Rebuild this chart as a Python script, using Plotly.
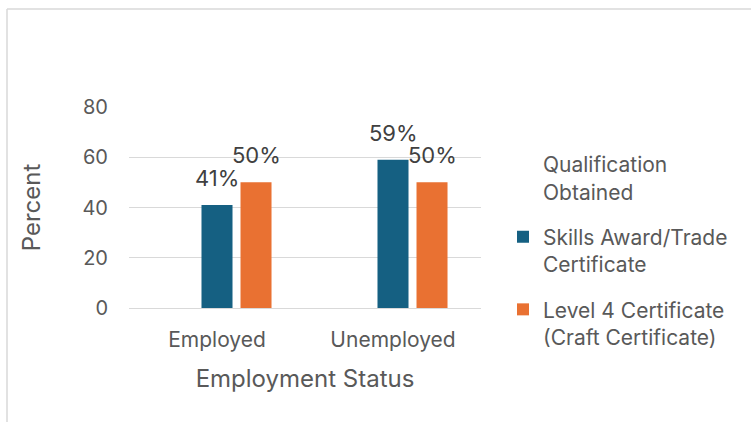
import plotly.graph_objects as go

# --- data -------------------------------------------------------------
categories = ["Employed", "Unemployed"]
series_names = [
    "Qualification<br>Obtained",
    "Skills Award/Trade<br>Certificate",
    "Level 4 Certificate<br>(Craft Certificate)",
]
heading_values = [None, None]          # header-only series, no bars
skills_values = [41, 59]
level4_values = [50, 50]
y_ticks = [0, 20, 40, 60, 80]

# --- styling ----------------------------------------------------------
W, H = 751, 422
M_L, M_R, M_T, M_B = 129, 270, 107, 114
PLOT_W = W - M_L - M_R
PLOT_H = H - M_T - M_B
FONT = "Inter, Lato, sans-serif"
GRID = "#d9d9d9"
TXT = "#595959"
LBL = "#404040"
BLUE = "#156082"
ORANGE = "#E97132"
SLOT = 39  # px between neighbouring bars inside a group

def px_x(p):
    return (p - M_L) / PLOT_W

def px_y(p):
    return (H - M_B - p) / PLOT_H

fig = go.Figure()
series = [
    (series_names[0], heading_values, "rgba(0,0,0,0)", 0),
    (series_names[1], skills_values, BLUE, 0),
    (series_names[2], level4_values, ORANGE, SLOT),
]
for i, (name, vals, color, _) in enumerate(series):
    fig.add_trace(go.Bar(
        x=categories, y=vals, name=name, legendgroup=f"g{i}",
        marker=dict(color=color, line=dict(width=0)),
        hoverinfo="skip",
    ))

# value labels above the bars
for name, vals, color, shift in series[1:]:
    for cat, v in zip(categories, vals):
        fig.add_annotation(
            x=cat, y=v, text=f"{v}%", showarrow=False,
            xshift=shift, yshift=12, yanchor="bottom",
            font=dict(family=FONT, size=22, color=LBL),
        )

# chart frame (top and left edges)
fig.add_shape(type="line", xref="paper", yref="paper",
              x0=px_x(7), x1=px_x(W + 5), y0=px_y(9), y1=px_y(9),
              line=dict(color=GRID, width=1.5))
fig.add_shape(type="line", xref="paper", yref="paper",
              x0=px_x(7), x1=px_x(7), y0=px_y(9), y1=px_y(H + 5),
              line=dict(color=GRID, width=1.5))

fig.update_layout(
    width=W, height=H,
    margin=dict(l=M_L, r=M_R, t=M_T, b=M_B, pad=0),
    paper_bgcolor="white", plot_bgcolor="white",
    barmode="group", bargap=0.335, bargroupgap=0.205,
    font=dict(family=FONT, color=TXT),
    showlegend=True,
    legend=dict(
        x=px_x(503), y=px_y(144), xanchor="left", yanchor="top",
        font=dict(family=FONT, size=21, color=TXT),
        tracegroupgap=15, bgcolor="rgba(0,0,0,0)",
        valign="top", maxheight=400,
    ),
    xaxis=dict(
        showgrid=False, showline=False, zeroline=False, ticks="",
        ticklabelstandoff=17,
        tickfont=dict(family=FONT, size=21, color=TXT),
        title=dict(text="Employment Status", standoff=19,
                   font=dict(family=FONT, size=24, color=TXT)),
    ),
    yaxis=dict(
        range=[0, 80], tickvals=y_ticks, showgrid=True, gridcolor=GRID,
        gridwidth=1.3, zeroline=True, zerolinecolor=GRID, zerolinewidth=1.3,
        showline=False, ticks="", ticklabelstandoff=20,
        tickfont=dict(family=FONT, size=20, color=TXT),
        title=dict(text="Percent", standoff=35,
                   font=dict(family=FONT, size=24, color=TXT)),
    ),
)

fig.write_html("out.html")
